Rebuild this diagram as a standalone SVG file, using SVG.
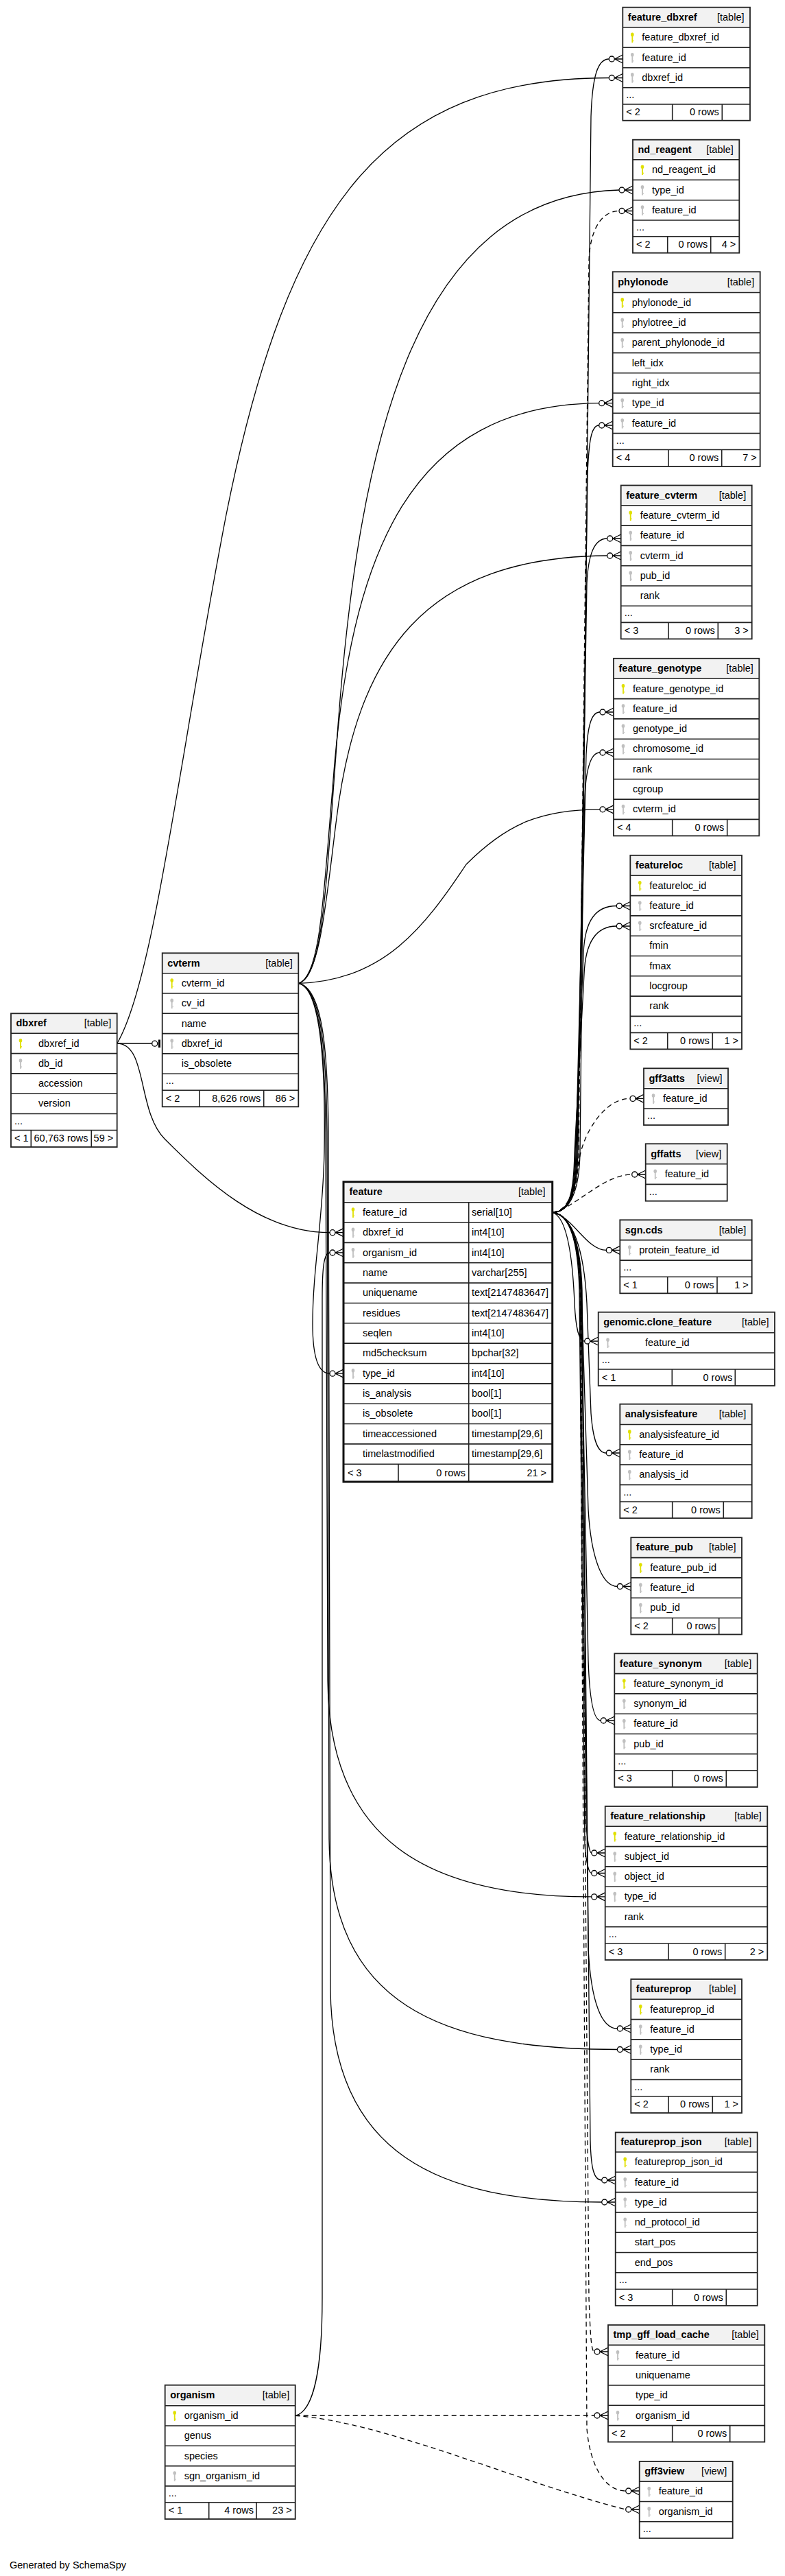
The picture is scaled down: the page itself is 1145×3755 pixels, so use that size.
<svg xmlns="http://www.w3.org/2000/svg" xmlns:xlink="http://www.w3.org/1999/xlink" width="1145" height="3755" viewBox="0 0 1145 3755">
<style>
text{font-family:"Liberation Sans",Arial,Helvetica,sans-serif;font-size:14.5px;fill:#000}
.n{font-weight:bold}
.e{text-anchor:end}
.bg{fill:#fff}
.hd{fill:#f2f2f2}
.ln{fill:none;stroke:#222;stroke-width:1.6}
.bx{fill:none;stroke:#222;stroke-width:1.8}
.bxb{fill:none;stroke:#111;stroke-width:3}
.c path{fill:none;stroke:#000;stroke-width:1.3}
.c path.d{stroke-dasharray:7 5}
</style>
<defs>
<g id="cf"><path d="M-12,0L0,-6M-12,0H0M-12,0L0,6" fill="none" stroke="#000" stroke-width="1.3"/><circle cx="-16" cy="0" r="4" fill="#fff" stroke="#000" stroke-width="1.3"/></g>
<g id="kp"><ellipse cx="0" cy="-4.3" rx="2.3" ry="2.8" fill="#e0e000"/><rect x="-0.9" y="-2.5" width="1.8" height="10" fill="#e0e000"/><rect x="0.8" y="4.2" width="1.3" height="1.3" fill="#e0e000"/></g>
<g id="kf"><ellipse cx="0" cy="-4.3" rx="2.3" ry="2.8" fill="#c0c0c0"/><rect x="-0.9" y="-2.5" width="1.8" height="10" fill="#c0c0c0"/><rect x="0.8" y="4.2" width="1.3" height="1.3" fill="#c0c0c0"/></g>
</defs>
<rect width="1145" height="3755" fill="#fff"/>

<g id="connectors" class="c">
<!-- from feature.feature_id -->
<path d="M806,1767.4 C832,1767 845,1735 846,1680 L862,170 C864,110 872,86 888.3,86"/>
<path class="d" d="M806,1767.4 C832,1767 843,1735 844,1680 L859,380 C861,330 880,307.5 903,307.5"/>
<path d="M806,1767.4 C832,1767 842,1735 843,1680 L857,690 C859,645 862,620 873.7,620"/>
<path d="M806,1767.4 C832,1767 841,1735 842,1680 L856,850 C858,810 866,785 885.7,785"/>
<path d="M806,1767.4 C832,1767 840,1735 841,1680 L855,1100 C857,1060 862,1038 875,1038"/>
<path d="M806,1767.4 C832,1767 839,1735 840,1680 L853,1160 C855,1120 862,1097 875,1097"/>
<path d="M806,1767.4 C832,1767 838,1735 839,1680 L851,1390 C853,1340 870,1320.5 899.3,1320.5"/>
<path d="M806,1767.4 C832,1767 837,1735 838,1680 L852,1420 C854,1370 872,1350 899.3,1350"/>
<path class="d" d="M806,1767.4 C830,1765 840,1730 845,1690 C850,1655 880,1601.4 919,1601.4"/>
<path class="d" d="M806,1767.4 C840,1760 880,1712 921.7,1712"/>
<path d="M806,1767.4 C835,1772 855,1822.4 884.3,1822.4"/>
<path d="M806,1767.4 C830,1775 836,1850 838,1900 C840,1940 845,1955 852.7,1955"/>
<path d="M806,1767.4 C835,1772 852,1820 856,1900 L862,2060 C865,2100 872,2118 884.3,2118"/>
<path d="M806,1767.4 C832,1770 846,1810 848,1880 L858,2200 C862,2270 878,2312.5 900.3,2312.5"/>
<path d="M806,1767.4 C832,1770 845,1810 847,1880 L858,2420 C860,2480 866,2508 876.3,2508"/>
<path d="M806,1767.4 C832,1770 844,1810 846,1880 L855,2660 C857,2685 860,2701 862.7,2701"/>
<path d="M806,1767.4 C832,1770 843,1810 845,1880 L853,2690 C855,2715 859,2730.5 862.7,2730.5"/>
<path d="M806,1767.4 C832,1770 846,1810 848,1880 L858,2840 C862,2920 878,2957 900.3,2957"/>
<path d="M806,1767.4 C832,1770 847,1810 849,1880 L861,3120 C862,3160 866,3178 877.7,3178"/>
<path class="d" d="M806,1767.4 C832,1770 845,1810 847,1880 L859,3350 C861,3400 862,3428 867,3428"/>
<path class="d" d="M806,1767.4 C832,1770 844,1810 846,1880 L856,3540 C860,3590 880,3631 912.7,3631"/>
<!-- from cvterm.cvterm_id -->
<path d="M435.3,1433.4 C470,1425 475,1300 490,1100 C520,650 600,285 903,277"/>
<path d="M435.3,1433.4 C468,1425 472,1300 485,1150 C510,800 600,590 873.7,587.7"/>
<path d="M435.3,1433.4 C466,1425 475,1320 490,1200 C520,950 620,812 885.7,810"/>
<path d="M435.3,1433.4 C560,1430 620,1350 680,1260 C740,1200 790,1180 875,1179.8"/>
<path d="M435.3,1433.4 C468,1440 475,1550 473,1680 C471,1780 456,1850 456,1930 C456,1982 466,2002.2 481,2002.2"/>
<path d="M435.3,1433.4 C468,1440 474,1540 475,1650 L478,2450 C480,2680 620,2764.9 862.7,2764.9"/>
<path d="M435.3,1433.4 C470,1440 476,1540 477,1650 L480,2680 C482,2920 640,2987.5 900.3,2987.5"/>
<path d="M435.3,1433.4 C472,1440 478,1540 479,1650 L482,2900 C484,3140 640,3210 877.7,3210"/>
<!-- from dbxref.dbxref_id -->
<path d="M170.7,1521 H221.7"/>
<path d="M170.7,1521 C225,1430 262,1100 330,750 C420,300 560,113.5 888.3,113.5"/>
<path d="M170.7,1521 C215,1521 200,1620 240,1660 C300,1720 380,1796.7 481,1796.7"/>
<!-- from organism.organism_id -->
<path d="M430.7,3521.4 C458,3515 470,3450 470,3350 L470,1895 C470,1850 472,1826 481,1826"/>
<path class="d" d="M430.7,3521 L867,3521"/>
<path class="d" d="M430.7,3521.4 C560,3530 760,3620 912.7,3658"/>
<!-- ends -->
<use xlink:href="#cf" x="908.3" y="86"/>
<use xlink:href="#cf" x="923" y="307.5"/>
<use xlink:href="#cf" x="893.7" y="620"/>
<use xlink:href="#cf" x="905.7" y="785"/>
<use xlink:href="#cf" x="895" y="1038"/>
<use xlink:href="#cf" x="895" y="1097"/>
<use xlink:href="#cf" x="919.3" y="1320.5"/>
<use xlink:href="#cf" x="919.3" y="1350"/>
<use xlink:href="#cf" x="939" y="1601.4"/>
<use xlink:href="#cf" x="941.7" y="1712"/>
<use xlink:href="#cf" x="904.3" y="1822.4"/>
<use xlink:href="#cf" x="872.7" y="1955"/>
<use xlink:href="#cf" x="904.3" y="2118"/>
<use xlink:href="#cf" x="920.3" y="2312.5"/>
<use xlink:href="#cf" x="896.3" y="2508"/>
<use xlink:href="#cf" x="882.7" y="2701"/>
<use xlink:href="#cf" x="882.7" y="2730.5"/>
<use xlink:href="#cf" x="920.3" y="2957"/>
<use xlink:href="#cf" x="897.7" y="3178"/>
<use xlink:href="#cf" x="887" y="3428"/>
<use xlink:href="#cf" x="932.7" y="3631"/>
<use xlink:href="#cf" x="923" y="277"/>
<use xlink:href="#cf" x="893.7" y="587.7"/>
<use xlink:href="#cf" x="905.7" y="810"/>
<use xlink:href="#cf" x="895" y="1179.8"/>
<use xlink:href="#cf" x="501" y="2002.2"/>
<use xlink:href="#cf" x="882.7" y="2764.9"/>
<use xlink:href="#cf" x="920.3" y="2987.5"/>
<use xlink:href="#cf" x="897.7" y="3210"/>
<use xlink:href="#cf" x="908.3" y="113.5"/>
<use xlink:href="#cf" x="501" y="1796.7"/>
<use xlink:href="#cf" x="501" y="1826"/>
<use xlink:href="#cf" x="887" y="3521"/>
<use xlink:href="#cf" x="932.7" y="3658"/>
<circle cx="225.7" cy="1521.2" r="4" fill="#fff" stroke="#000" stroke-width="1.3"/>
<path d="M232.5,1515.5V1527" style="stroke-width:3"/>
</g>

<g id="feature_dbxref">
<rect class="bg" x="908.3" y="10.7" width="185.7" height="165"/>
<rect class="hd" x="908.3" y="10.7" width="185.7" height="29.3"/>
<path class="ln" d="M908.3,40H1094M908.3,69.3H1094M908.3,98.7H1094M908.3,127.7H1094M908.3,152H1094M980.7,152V175.7M1053.3,152V175.7"/>
<rect class="bx" x="908.3" y="10.7" width="185.7" height="165"/>
<text class="n" x="915.8" y="29.9">feature_dbxref</text><text class="e" x="1085.5" y="29.9">[table]</text>
<use xlink:href="#kp" x="922.3" y="54.7"/><text x="936.3" y="59.2">feature_dbxref_id</text>
<use xlink:href="#kf" x="922.3" y="84"/><text x="936.3" y="88.5">feature_id</text>
<use xlink:href="#kf" x="922.3" y="113.2"/><text x="936.3" y="117.7">dbxref_id</text>
<text x="913.3" y="142.9">...</text>
<text x="913.3" y="168.4">&lt; 2</text><text class="e" x="1048.7" y="168.4">0 rows</text>
</g>

<g id="nd_reagent">
<rect class="bg" x="923" y="203.7" width="155.3" height="165"/>
<rect class="hd" x="923" y="203.7" width="155.3" height="29"/>
<path class="ln" d="M923,232.7H1078.3M923,262.3H1078.3M923,291.7H1078.3M923,321H1078.3M923,344.7H1078.3M973.7,344.7V368.7M1036.7,344.7V368.7"/>
<rect class="bx" x="923" y="203.7" width="155.3" height="165"/>
<text class="n" x="930.5" y="222.7">nd_reagent</text><text class="e" x="1069.8" y="222.7">[table]</text>
<use xlink:href="#kp" x="937" y="247.5"/><text x="951" y="252">nd_reagent_id</text>
<use xlink:href="#kf" x="937" y="277"/><text x="951" y="281.5">type_id</text>
<use xlink:href="#kf" x="937" y="306.4"/><text x="951" y="310.9">feature_id</text>
<text x="928" y="335.9">...</text>
<text x="928" y="361.2">&lt; 2</text><text class="e" x="1032.2" y="361.2">0 rows</text><text class="e" x="1073.3" y="361.2">4 &gt;</text>
</g>

<g id="phylonode">
<rect class="bg" x="893.7" y="396.2" width="215" height="283.8"/>
<rect class="hd" x="893.7" y="396.2" width="215" height="30.3"/>
<path class="ln" d="M893.7,426.5H1108.7M893.7,455.8H1108.7M893.7,485.1H1108.7M893.7,514.4H1108.7M893.7,543.7H1108.7M893.7,573H1108.7M893.7,602.3H1108.7M893.7,631.6H1108.7M893.7,655.5H1108.7M975,655.5V680M1052.7,655.5V680"/>
<rect class="bx" x="893.7" y="396.2" width="215" height="283.8"/>
<text class="n" x="901.2" y="415.9">phylonode</text><text class="e" x="1100.2" y="415.9">[table]</text>
<use xlink:href="#kp" x="907.7" y="441.2"/><text x="921.7" y="445.7">phylonode_id</text>
<use xlink:href="#kf" x="907.7" y="470.5"/><text x="921.7" y="475">phylotree_id</text>
<use xlink:href="#kf" x="907.7" y="499.8"/><text x="921.7" y="504.3">parent_phylonode_id</text>
<text x="921.7" y="533.6">left_idx</text>
<text x="921.7" y="562.9">right_idx</text>
<use xlink:href="#kf" x="907.7" y="587.7"/><text x="921.7" y="592.2">type_id</text>
<use xlink:href="#kf" x="907.7" y="617"/><text x="921.7" y="621.5">feature_id</text>
<text x="898.7" y="646.6">...</text>
<text x="898.7" y="672.3">&lt; 4</text><text class="e" x="1048.2" y="672.3">0 rows</text><text class="e" x="1103.7" y="672.3">7 &gt;</text>
</g>

<g id="feature_cvterm">
<rect class="bg" x="905.7" y="707.5" width="191" height="223.9"/>
<rect class="hd" x="905.7" y="707.5" width="191" height="29.3"/>
<path class="ln" d="M905.7,736.8H1096.7M905.7,766.1H1096.7M905.7,795.4H1096.7M905.7,824.7H1096.7M905.7,854H1096.7M905.7,883.3H1096.7M905.7,907.4H1096.7M975,907.4V931.4M1047.3,907.4V931.4"/>
<rect class="bx" x="905.7" y="707.5" width="191" height="223.9"/>
<text class="n" x="913.2" y="726.7">feature_cvterm</text><text class="e" x="1088.2" y="726.7">[table]</text>
<use xlink:href="#kp" x="919.7" y="751.5"/><text x="933.7" y="756">feature_cvterm_id</text>
<use xlink:href="#kf" x="919.7" y="780.8"/><text x="933.7" y="785.3">feature_id</text>
<use xlink:href="#kf" x="919.7" y="810.1"/><text x="933.7" y="814.6">cvterm_id</text>
<use xlink:href="#kf" x="919.7" y="839.4"/><text x="933.7" y="843.9">pub_id</text>
<text x="933.7" y="873.2">rank</text>
<text x="910.7" y="898.4">...</text>
<text x="910.7" y="923.9">&lt; 3</text><text class="e" x="1042.8" y="923.9">0 rows</text><text class="e" x="1091.7" y="923.9">3 &gt;</text>
</g>

<g id="feature_genotype">
<rect class="bg" x="895" y="959.8" width="212.3" height="258.6"/>
<rect class="hd" x="895" y="959.8" width="212.3" height="29.5"/>
<path class="ln" d="M895,989.3H1107.3M895,1018.6H1107.3M895,1047.9H1107.3M895,1077.2H1107.3M895,1106.5H1107.3M895,1135.8H1107.3M895,1165.1H1107.3M895,1194.4H1107.3M980.7,1194.4V1218.4M1060.7,1194.4V1218.4"/>
<rect class="bx" x="895" y="959.8" width="212.3" height="258.6"/>
<text class="n" x="902.5" y="979.1">feature_genotype</text><text class="e" x="1098.8" y="979.1">[table]</text>
<use xlink:href="#kp" x="909" y="1004"/><text x="923" y="1008.5">feature_genotype_id</text>
<use xlink:href="#kf" x="909" y="1033.3"/><text x="923" y="1037.8">feature_id</text>
<use xlink:href="#kf" x="909" y="1062.6"/><text x="923" y="1067.1">genotype_id</text>
<use xlink:href="#kf" x="909" y="1091.9"/><text x="923" y="1096.4">chromosome_id</text>
<text x="923" y="1125.7">rank</text>
<text x="923" y="1155">cgroup</text>
<use xlink:href="#kf" x="909" y="1179.8"/><text x="923" y="1184.3">cvterm_id</text>
<text x="900" y="1210.9">&lt; 4</text><text class="e" x="1056.2" y="1210.9">0 rows</text>
</g>

<g id="featureloc">
<rect class="bg" x="919.3" y="1246.8" width="162.7" height="282.6"/>
<rect class="hd" x="919.3" y="1246.8" width="162.7" height="29.5"/>
<path class="ln" d="M919.3,1276.3H1082M919.3,1305.6H1082M919.3,1334.9H1082M919.3,1364.2H1082M919.3,1393.5H1082M919.3,1422.8H1082M919.3,1452.1H1082M919.3,1481.4H1082M919.3,1505.4H1082M973.7,1505.4V1529.4M1039.3,1505.4V1529.4"/>
<rect class="bx" x="919.3" y="1246.8" width="162.7" height="282.6"/>
<text class="n" x="926.8" y="1266.1">featureloc</text><text class="e" x="1073.5" y="1266.1">[table]</text>
<use xlink:href="#kp" x="933.3" y="1291"/><text x="947.3" y="1295.5">featureloc_id</text>
<use xlink:href="#kf" x="933.3" y="1320.3"/><text x="947.3" y="1324.8">feature_id</text>
<use xlink:href="#kf" x="933.3" y="1349.6"/><text x="947.3" y="1354.1">srcfeature_id</text>
<text x="947.3" y="1383.4">fmin</text>
<text x="947.3" y="1412.7">fmax</text>
<text x="947.3" y="1442">locgroup</text>
<text x="947.3" y="1471.3">rank</text>
<text x="924.3" y="1496.4">...</text>
<text x="924.3" y="1521.9">&lt; 2</text><text class="e" x="1034.8" y="1521.9">0 rows</text><text class="e" x="1077" y="1521.9">1 &gt;</text>
</g>

<g id="gff3atts">
<rect class="bg" x="939" y="1557.3" width="123" height="82.7"/>
<rect class="hd" x="939" y="1557.3" width="123" height="29.4"/>
<path class="ln" d="M939,1586.7H1062M939,1616H1062"/>
<rect class="bx" x="939" y="1557.3" width="123" height="82.7"/>
<text class="n" x="946.5" y="1576.5">gff3atts</text><text class="e" x="1053.5" y="1576.5">[view]</text>
<use xlink:href="#kf" x="953" y="1601.4"/><text x="967" y="1605.9">feature_id</text>
<text x="944" y="1631">...</text>
</g>

<g id="gffatts">
<rect class="bg" x="941.7" y="1667.3" width="119" height="83.4"/>
<rect class="hd" x="941.7" y="1667.3" width="119" height="29.5"/>
<path class="ln" d="M941.7,1696.8H1060.7M941.7,1726.4H1060.7"/>
<rect class="bx" x="941.7" y="1667.3" width="119" height="83.4"/>
<text class="n" x="949.2" y="1686.5">gffatts</text><text class="e" x="1052.2" y="1686.5">[view]</text>
<use xlink:href="#kf" x="955.7" y="1711.6"/><text x="969.7" y="1716.1">feature_id</text>
<text x="946.7" y="1741.5">...</text>
</g>

<g id="sgn.cds">
<rect class="bg" x="904.3" y="1778.3" width="192.4" height="107"/>
<rect class="hd" x="904.3" y="1778.3" width="192.4" height="29.3"/>
<path class="ln" d="M904.3,1807.6H1096.7M904.3,1837.1H1096.7M904.3,1861.3H1096.7M973.7,1861.3V1885.3M1046,1861.3V1885.3"/>
<rect class="bx" x="904.3" y="1778.3" width="192.4" height="107"/>
<text class="n" x="911.8" y="1797.5">sgn.cds</text><text class="e" x="1088.2" y="1797.5">[table]</text>
<use xlink:href="#kf" x="918.3" y="1822.4"/><text x="932.3" y="1826.9">protein_feature_id</text>
<text x="909.3" y="1852.2">...</text>
<text x="909.3" y="1877.8">&lt; 1</text><text class="e" x="1041.5" y="1877.8">0 rows</text><text class="e" x="1091.7" y="1877.8">1 &gt;</text>
</g>

<g id="genomic.clone_feature">
<rect class="bg" x="872.7" y="1912.7" width="257.3" height="107.3"/>
<rect class="hd" x="872.7" y="1912.7" width="257.3" height="30"/>
<path class="ln" d="M872.7,1942.7H1130M872.7,1972H1130M872.7,1996H1130M980.3,1996V2020M1072.3,1996V2020"/>
<rect class="bx" x="872.7" y="1912.7" width="257.3" height="107.3"/>
<text class="n" x="880.2" y="1932.2">genomic.clone_feature</text><text class="e" x="1121.5" y="1932.2">[table]</text>
<use xlink:href="#kf" x="886.5" y="1957.4"/><text x="941" y="1961.9">feature_id</text>
<text x="877.7" y="1987">...</text>
<text x="877.7" y="2012.5">&lt; 1</text><text class="e" x="1068.2" y="2012.5">0 rows</text>
</g>

<g id="analysisfeature">
<rect class="bg" x="904.3" y="2046.7" width="192.4" height="166.3"/>
<rect class="hd" x="904.3" y="2046.7" width="192.4" height="29.8"/>
<path class="ln" d="M904.3,2076.5H1096.7M904.3,2105.8H1096.7M904.3,2135.1H1096.7M904.3,2164.4H1096.7M904.3,2189H1096.7M980.7,2189V2213M1055.3,2189V2213"/>
<rect class="bx" x="904.3" y="2046.7" width="192.4" height="166.3"/>
<text class="n" x="911.8" y="2066.1">analysisfeature</text><text class="e" x="1088.2" y="2066.1">[table]</text>
<use xlink:href="#kp" x="918.3" y="2091.2"/><text x="932.3" y="2095.7">analysisfeature_id</text>
<use xlink:href="#kf" x="918.3" y="2120.5"/><text x="932.3" y="2125">feature_id</text>
<use xlink:href="#kf" x="918.3" y="2149.8"/><text x="932.3" y="2154.3">analysis_id</text>
<text x="909.3" y="2179.7">...</text>
<text x="909.3" y="2205.5">&lt; 2</text><text class="e" x="1050.8" y="2205.5">0 rows</text>
</g>

<g id="feature_pub">
<rect class="bg" x="920.3" y="2241.2" width="161.7" height="141.3"/>
<rect class="hd" x="920.3" y="2241.2" width="161.7" height="29.4"/>
<path class="ln" d="M920.3,2270.6H1082M920.3,2299.9H1082M920.3,2329.2H1082M920.3,2358.5H1082M980.7,2358.5V2382.5M1048.7,2358.5V2382.5"/>
<rect class="bx" x="920.3" y="2241.2" width="161.7" height="141.3"/>
<text class="n" x="927.8" y="2260.4">feature_pub</text><text class="e" x="1073.5" y="2260.4">[table]</text>
<use xlink:href="#kp" x="934.3" y="2285.3"/><text x="948.3" y="2289.8">feature_pub_id</text>
<use xlink:href="#kf" x="934.3" y="2314.6"/><text x="948.3" y="2319.1">feature_id</text>
<use xlink:href="#kf" x="934.3" y="2343.9"/><text x="948.3" y="2348.4">pub_id</text>
<text x="925.3" y="2375">&lt; 2</text><text class="e" x="1044.2" y="2375">0 rows</text>
</g>

<g id="feature_synonym">
<rect class="bg" x="896.3" y="2410.3" width="208.4" height="194.7"/>
<rect class="hd" x="896.3" y="2410.3" width="208.4" height="29.3"/>
<path class="ln" d="M896.3,2439.6H1104.7M896.3,2468.9H1104.7M896.3,2498.2H1104.7M896.3,2527.5H1104.7M896.3,2556.8H1104.7M896.3,2580.8H1104.7M980.7,2580.8V2605M1059.3,2580.8V2605"/>
<rect class="bx" x="896.3" y="2410.3" width="208.4" height="194.7"/>
<text class="n" x="903.8" y="2429.5">feature_synonym</text><text class="e" x="1096.2" y="2429.5">[table]</text>
<use xlink:href="#kp" x="910.3" y="2454.3"/><text x="924.3" y="2458.8">feature_synonym_id</text>
<use xlink:href="#kf" x="910.3" y="2483.6"/><text x="924.3" y="2488.1">synonym_id</text>
<use xlink:href="#kf" x="910.3" y="2512.9"/><text x="924.3" y="2517.4">feature_id</text>
<use xlink:href="#kf" x="910.3" y="2542.2"/><text x="924.3" y="2546.7">pub_id</text>
<text x="901.3" y="2571.8">...</text>
<text x="901.3" y="2597.4">&lt; 3</text><text class="e" x="1054.8" y="2597.4">0 rows</text>
</g>

<g id="feature_relationship">
<rect class="bg" x="882.7" y="2633" width="236.6" height="224"/>
<rect class="hd" x="882.7" y="2633" width="236.6" height="29.3"/>
<path class="ln" d="M882.7,2662.3H1119.3M882.7,2691.6H1119.3M882.7,2720.9H1119.3M882.7,2750.2H1119.3M882.7,2779.5H1119.3M882.7,2808.8H1119.3M882.7,2833H1119.3M975,2833V2857M1057.7,2833V2857"/>
<rect class="bx" x="882.7" y="2633" width="236.6" height="224"/>
<text class="n" x="890.2" y="2652.2">feature_relationship</text><text class="e" x="1110.8" y="2652.2">[table]</text>
<use xlink:href="#kp" x="896.7" y="2677"/><text x="910.7" y="2681.5">feature_relationship_id</text>
<use xlink:href="#kf" x="896.7" y="2706.3"/><text x="910.7" y="2710.8">subject_id</text>
<use xlink:href="#kf" x="896.7" y="2735.6"/><text x="910.7" y="2740.1">object_id</text>
<use xlink:href="#kf" x="896.7" y="2764.9"/><text x="910.7" y="2769.4">type_id</text>
<text x="910.7" y="2798.7">rank</text>
<text x="887.7" y="2823.9">...</text>
<text x="887.7" y="2849.5">&lt; 3</text><text class="e" x="1053.2" y="2849.5">0 rows</text><text class="e" x="1114.3" y="2849.5">2 &gt;</text>
</g>

<g id="featureprop">
<rect class="bg" x="920.3" y="2885" width="161.7" height="195"/>
<rect class="hd" x="920.3" y="2885" width="161.7" height="29.3"/>
<path class="ln" d="M920.3,2914.3H1082M920.3,2943.6H1082M920.3,2972.9H1082M920.3,3002.2H1082M920.3,3031.5H1082M920.3,3055.7H1082M975,3055.7V3080M1039.3,3055.7V3080"/>
<rect class="bx" x="920.3" y="2885" width="161.7" height="195"/>
<text class="n" x="927.8" y="2904.2">featureprop</text><text class="e" x="1073.5" y="2904.2">[table]</text>
<use xlink:href="#kp" x="934.3" y="2929"/><text x="948.3" y="2933.5">featureprop_id</text>
<use xlink:href="#kf" x="934.3" y="2958.3"/><text x="948.3" y="2962.8">feature_id</text>
<use xlink:href="#kf" x="934.3" y="2987.6"/><text x="948.3" y="2992.1">type_id</text>
<text x="948.3" y="3021.4">rank</text>
<text x="925.3" y="3046.6">...</text>
<text x="925.3" y="3072.4">&lt; 2</text><text class="e" x="1034.8" y="3072.4">0 rows</text><text class="e" x="1077" y="3072.4">1 &gt;</text>
</g>

<g id="featureprop_json">
<rect class="bg" x="897.7" y="3108.4" width="207" height="252.6"/>
<rect class="hd" x="897.7" y="3108.4" width="207" height="28.6"/>
<path class="ln" d="M897.7,3137H1104.7M897.7,3166.3H1104.7M897.7,3195.6H1104.7M897.7,3224.9H1104.7M897.7,3254.2H1104.7M897.7,3283.5H1104.7M897.7,3312.8H1104.7M897.7,3337H1104.7M980.7,3337V3361M1059.3,3337V3361"/>
<rect class="bx" x="897.7" y="3108.4" width="207" height="252.6"/>
<text class="n" x="905.2" y="3127.2">featureprop_json</text><text class="e" x="1096.2" y="3127.2">[table]</text>
<use xlink:href="#kp" x="911.7" y="3151.7"/><text x="925.7" y="3156.2">featureprop_json_id</text>
<use xlink:href="#kf" x="911.7" y="3181"/><text x="925.7" y="3185.5">feature_id</text>
<use xlink:href="#kf" x="911.7" y="3210.3"/><text x="925.7" y="3214.8">type_id</text>
<use xlink:href="#kf" x="911.7" y="3239.6"/><text x="925.7" y="3244.1">nd_protocol_id</text>
<text x="925.7" y="3273.4">start_pos</text>
<text x="925.7" y="3302.7">end_pos</text>
<text x="902.7" y="3327.9">...</text>
<text x="902.7" y="3353.5">&lt; 3</text><text class="e" x="1054.8" y="3353.5">0 rows</text>
</g>

<g id="tmp_gff_load_cache">
<rect class="bg" x="887" y="3389.1" width="228.3" height="170.5"/>
<rect class="hd" x="887" y="3389.1" width="228.3" height="29.3"/>
<path class="ln" d="M887,3418.4H1115.3M887,3447.7H1115.3M887,3477H1115.3M887,3506.3H1115.3M887,3535.6H1115.3M980.7,3535.6V3559.6M1064.7,3535.6V3559.6"/>
<rect class="bx" x="887" y="3389.1" width="228.3" height="170.5"/>
<text class="n" x="894.5" y="3408.3">tmp_gff_load_cache</text><text class="e" x="1106.8" y="3408.3">[table]</text>
<use xlink:href="#kf" x="901" y="3433.1"/><text x="927" y="3437.6">feature_id</text>
<text x="927" y="3466.9">uniquename</text>
<text x="927" y="3496.2">type_id</text>
<use xlink:href="#kf" x="901" y="3521"/><text x="927" y="3525.5">organism_id</text>
<text x="892" y="3552.1">&lt; 2</text><text class="e" x="1060.2" y="3552.1">0 rows</text>
</g>

<g id="gff3view">
<rect class="bg" x="932.7" y="3588" width="136" height="111.9"/>
<rect class="hd" x="932.7" y="3588" width="136" height="29.2"/>
<path class="ln" d="M932.7,3617.2H1068.7M932.7,3646.5H1068.7M932.7,3675.8H1068.7"/>
<rect class="bx" x="932.7" y="3588" width="136" height="111.9"/>
<text class="n" x="940.2" y="3607.1">gff3view</text><text class="e" x="1060.2" y="3607.1">[view]</text>
<use xlink:href="#kf" x="946.7" y="3631.9"/><text x="960.7" y="3636.4">feature_id</text>
<use xlink:href="#kf" x="946.7" y="3661.2"/><text x="960.7" y="3665.7">organism_id</text>
<text x="937.7" y="3690.9">...</text>
</g>

<g id="dbxref">
<rect class="bg" x="16" y="1477.3" width="154.7" height="194.7"/>
<rect class="hd" x="16" y="1477.3" width="154.7" height="29"/>
<path class="ln" d="M16,1506.3H170.7M16,1535.6H170.7M16,1564.9H170.7M16,1594.2H170.7M16,1623.5H170.7M16,1647.5H170.7M45.3,1647.5V1672M133.3,1647.5V1672"/>
<rect class="bx" x="16" y="1477.3" width="154.7" height="194.7"/>
<text class="n" x="23.5" y="1496.3">dbxref</text><text class="e" x="162.2" y="1496.3">[table]</text>
<use xlink:href="#kp" x="30" y="1521"/><text x="56" y="1525.5">dbxref_id</text>
<use xlink:href="#kf" x="30" y="1550.3"/><text x="56" y="1554.8">db_id</text>
<text x="56" y="1584.1">accession</text>
<text x="56" y="1613.4">version</text>
<text x="21" y="1638.5">...</text>
<text x="21" y="1664.3">&lt; 1</text><text class="e" x="128.5" y="1664.3">60,763 rows</text><text class="e" x="165.2" y="1664.3">59 &gt;</text>
</g>

<g id="cvterm">
<rect class="bg" x="236.7" y="1389.3" width="198.6" height="224"/>
<rect class="hd" x="236.7" y="1389.3" width="198.6" height="29.4"/>
<path class="ln" d="M236.7,1418.7H435.3M236.7,1448H435.3M236.7,1477.3H435.3M236.7,1506.6H435.3M236.7,1535.9H435.3M236.7,1565.2H435.3M236.7,1589.3H435.3M291,1589.3V1613.3M384.7,1589.3V1613.3"/>
<rect class="bx" x="236.7" y="1389.3" width="198.6" height="224"/>
<text class="n" x="244.2" y="1408.5">cvterm</text><text class="e" x="426.8" y="1408.5">[table]</text>
<use xlink:href="#kp" x="250.7" y="1433.4"/><text x="264.7" y="1437.9">cvterm_id</text>
<use xlink:href="#kf" x="250.7" y="1462.7"/><text x="264.7" y="1467.2">cv_id</text>
<text x="264.7" y="1496.5">name</text>
<use xlink:href="#kf" x="250.7" y="1521.3"/><text x="264.7" y="1525.8">dbxref_id</text>
<text x="264.7" y="1555.1">is_obsolete</text>
<text x="241.7" y="1580.3">...</text>
<text x="241.7" y="1605.8">&lt; 2</text><text class="e" x="380.2" y="1605.8">8,626 rows</text><text class="e" x="430.3" y="1605.8">86 &gt;</text>
</g>

<g id="feature">
<rect class="bg" x="501" y="1722.7" width="304.7" height="437.3"/>
<rect class="hd" x="501" y="1722.7" width="304.7" height="30"/>
<path class="ln" d="M501,1752.7H805.7M501,1782.05H805.7M501,1811.4H805.7M501,1840.75H805.7M501,1870.1H805.7M501,1899.45H805.7M501,1928.8H805.7M501,1958.15H805.7M501,1987.5H805.7M501,2016.85H805.7M501,2046.2H805.7M501,2075.55H805.7M501,2104.9H805.7M501,2134.25H805.7M683.7,1752.7V2160M581,2134.25V2160"/>
<rect class="bxb" x="501" y="1722.7" width="304.7" height="437.3"/>
<text class="n" x="509.5" y="1742.2">feature</text><text class="e" x="795.5" y="1742.2">[table]</text>
<use xlink:href="#kp" x="515" y="1767.4"/><text x="529" y="1771.9">feature_id</text><text x="688" y="1771.9">serial[10]</text>
<use xlink:href="#kf" x="515" y="1796.7"/><text x="529" y="1801.2">dbxref_id</text><text x="688" y="1801.2">int4[10]</text>
<use xlink:href="#kf" x="515" y="1826.1"/><text x="529" y="1830.6">organism_id</text><text x="688" y="1830.6">int4[10]</text>
<text x="529" y="1859.9">name</text><text x="688" y="1859.9">varchar[255]</text>
<text x="529" y="1889.3">uniquename</text><text x="688" y="1889.3">text[2147483647]</text>
<text x="529" y="1918.6">residues</text><text x="688" y="1918.6">text[2147483647]</text>
<text x="529" y="1948">seqlen</text><text x="688" y="1948">int4[10]</text>
<text x="529" y="1977.3">md5checksum</text><text x="688" y="1977.3">bpchar[32]</text>
<use xlink:href="#kf" x="515" y="2002.2"/><text x="529" y="2006.7">type_id</text><text x="688" y="2006.7">int4[10]</text>
<text x="529" y="2036">is_analysis</text><text x="688" y="2036">bool[1]</text>
<text x="529" y="2065.4">is_obsolete</text><text x="688" y="2065.4">bool[1]</text>
<text x="529" y="2094.7">timeaccessioned</text><text x="688" y="2094.7">timestamp[29,6]</text>
<text x="529" y="2124.1">timelastmodified</text><text x="688" y="2124.1">timestamp[29,6]</text>
<text x="507" y="2151.6">&lt; 3</text><text class="e" x="679" y="2151.6">0 rows</text><text class="e" x="797" y="2151.6">21 &gt;</text>
</g>

<g id="organism">
<rect class="bg" x="240.7" y="3476.7" width="190" height="195.3"/>
<rect class="hd" x="240.7" y="3476.7" width="190" height="30"/>
<path class="ln" d="M240.7,3506.7H430.7M240.7,3536H430.7M240.7,3565.3H430.7M240.7,3594.6H430.7M240.7,3623.9H430.7M240.7,3647.7H430.7M304.7,3647.7V3672M374,3647.7V3672"/>
<rect class="bx" x="240.7" y="3476.7" width="190" height="195.3"/>
<text class="n" x="248.2" y="3496.2">organism</text><text class="e" x="422.2" y="3496.2">[table]</text>
<use xlink:href="#kp" x="254.7" y="3521.4"/><text x="268.7" y="3525.9">organism_id</text>
<text x="268.7" y="3555.2">genus</text>
<text x="268.7" y="3584.5">species</text>
<use xlink:href="#kf" x="254.7" y="3609.3"/><text x="268.7" y="3613.8">sgn_organism_id</text>
<text x="245.7" y="3638.8">...</text>
<text x="245.7" y="3664.4">&lt; 1</text><text class="e" x="370" y="3664.4">4 rows</text><text class="e" x="425.7" y="3664.4">23 &gt;</text>
</g>

<text x="14" y="3744">Generated by SchemaSpy</text>
</svg>
